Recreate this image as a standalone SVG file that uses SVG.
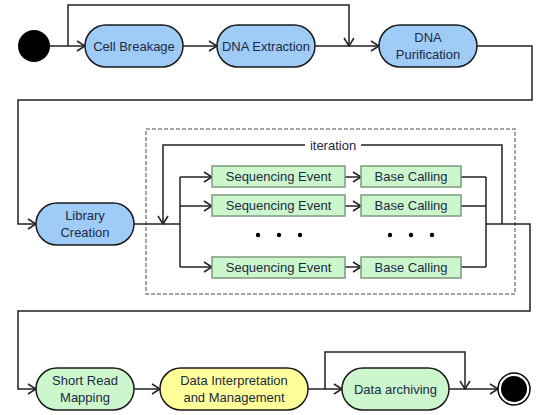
<svg xmlns="http://www.w3.org/2000/svg" width="537" height="415" viewBox="0 0 537 415">
<style>
text{font-family:"Liberation Sans",Arial,sans-serif;font-size:13px;fill:#1c2a44;text-anchor:middle}
.blue{fill:#9fcbf7;stroke:#1a1a1a;stroke-width:1.5}
.green{fill:#ccf7cc;stroke:#1a1a1a;stroke-width:1.5}
.yellow{fill:#ffff99;stroke:#1a1a1a;stroke-width:1.5}
.box{fill:#ccf7cc;stroke:#7f9a7f;stroke-width:1.5}
.c{fill:none;stroke:#222;stroke-width:1.5}
</style>
<defs>
<marker id="ar" markerWidth="10" markerHeight="12" refX="9" refY="6" orient="auto" markerUnits="userSpaceOnUse">
<path d="M1,1 L9,6 L1,11" fill="none" stroke="#222" stroke-width="1.5"/>
</marker>
</defs>
<rect x="146" y="129" width="369" height="165" fill="none" stroke="#888" stroke-width="1.5" stroke-dasharray="4,2"/>
<g id="connectors">
<path class="c" d="M50,46 H85" marker-end="url(#ar)"/>
<path class="c" d="M68,46 V5 H349 V46" marker-end="url(#ar)"/>
<path class="c" d="M183,46 H217" marker-end="url(#ar)"/>
<path class="c" d="M315,46 H379" marker-end="url(#ar)"/>
<path class="c" d="M477,46 H532 V100 H18 V224 H36" marker-end="url(#ar)"/>
<path class="c" d="M134,224 H180"/>
<path class="c" d="M502,224 V145 H163 V224" marker-end="url(#ar)"/>
<path class="c" d="M180,177 V267"/>
<path class="c" d="M180,177 H212" marker-end="url(#ar)"/>
<path class="c" d="M180,206 H212" marker-end="url(#ar)"/>
<path class="c" d="M180,267 H212" marker-end="url(#ar)"/>
<path class="c" d="M345,177 H361" marker-end="url(#ar)"/>
<path class="c" d="M345,206 H361" marker-end="url(#ar)"/>
<path class="c" d="M345,267 H361" marker-end="url(#ar)"/>
<path class="c" d="M461,177 H486 M461,206 H486 M461,267 H486 M486,177 V267"/>
<path class="c" d="M486,224 H530 V311 H18 V389 H36" marker-end="url(#ar)"/>
<path class="c" d="M134,389 H160" marker-end="url(#ar)"/>
<path class="c" d="M308,389 H342" marker-end="url(#ar)"/>
<path class="c" d="M325,389 V352 H465 V389" marker-end="url(#ar)"/>
<path class="c" d="M449,389 H498" marker-end="url(#ar)"/>
<rect x="305" y="138" width="56" height="14" fill="#fff"/>
<text x="333" y="150">iteration</text>
</g>
<g id="start"><circle cx="34" cy="46" r="16" fill="#000"/></g>
<g id="cell-breakage"><rect class="blue" x="85" y="25" width="98" height="42" rx="21"/><text x="134" y="50.5">Cell Breakage</text></g>
<g id="dna-extraction"><rect class="blue" x="217" y="25" width="98" height="42" rx="21"/><text x="266" y="50.5">DNA Extraction</text></g>
<g id="dna-purification"><rect class="blue" x="379" y="25" width="98" height="42" rx="21"/><text x="428" y="42">DNA</text><text x="428" y="59">Purification</text></g>
<g id="library-creation"><rect class="blue" x="36" y="203" width="98" height="42" rx="21"/><text x="85" y="220">Library</text><text x="85" y="237">Creation</text></g>
<g id="seq1"><rect class="box" x="212" y="166" width="133" height="21"/><text x="278.5" y="181">Sequencing Event</text></g>
<g id="seq2"><rect class="box" x="212" y="195" width="133" height="21"/><text x="278.5" y="210">Sequencing Event</text></g>
<g id="seq3"><rect class="box" x="212" y="257" width="133" height="21"/><text x="278.5" y="272">Sequencing Event</text></g>
<g id="base1"><rect class="box" x="361" y="166" width="100" height="21"/><text x="411" y="181">Base Calling</text></g>
<g id="base2"><rect class="box" x="361" y="195" width="100" height="21"/><text x="411" y="210">Base Calling</text></g>
<g id="base3"><rect class="box" x="361" y="257" width="100" height="21"/><text x="411" y="272">Base Calling</text></g>
<g id="dots" fill="#000">
<circle cx="258" cy="235" r="2.2"/><circle cx="279" cy="235" r="2.2"/><circle cx="300" cy="235" r="2.2"/>
<circle cx="390" cy="235" r="2.2"/><circle cx="411" cy="235" r="2.2"/><circle cx="432" cy="235" r="2.2"/>
</g>
<g id="short-read-mapping"><rect class="green" x="36" y="368" width="98" height="42" rx="21"/><text x="85" y="385">Short Read</text><text x="85" y="402">Mapping</text></g>
<g id="data-interpretation"><rect class="yellow" x="160" y="368" width="148" height="42" rx="21"/><text x="234" y="385">Data Interpretation</text><text x="234" y="402">and Management</text></g>
<g id="data-archiving"><rect class="green" x="342" y="368" width="107" height="42" rx="21"/><text x="395.5" y="393.5">Data archiving</text></g>
<g id="end"><circle cx="514" cy="389" r="16" fill="#fff" stroke="#000" stroke-width="1.5"/><circle cx="514" cy="389" r="13" fill="#000"/></g>
</svg>
